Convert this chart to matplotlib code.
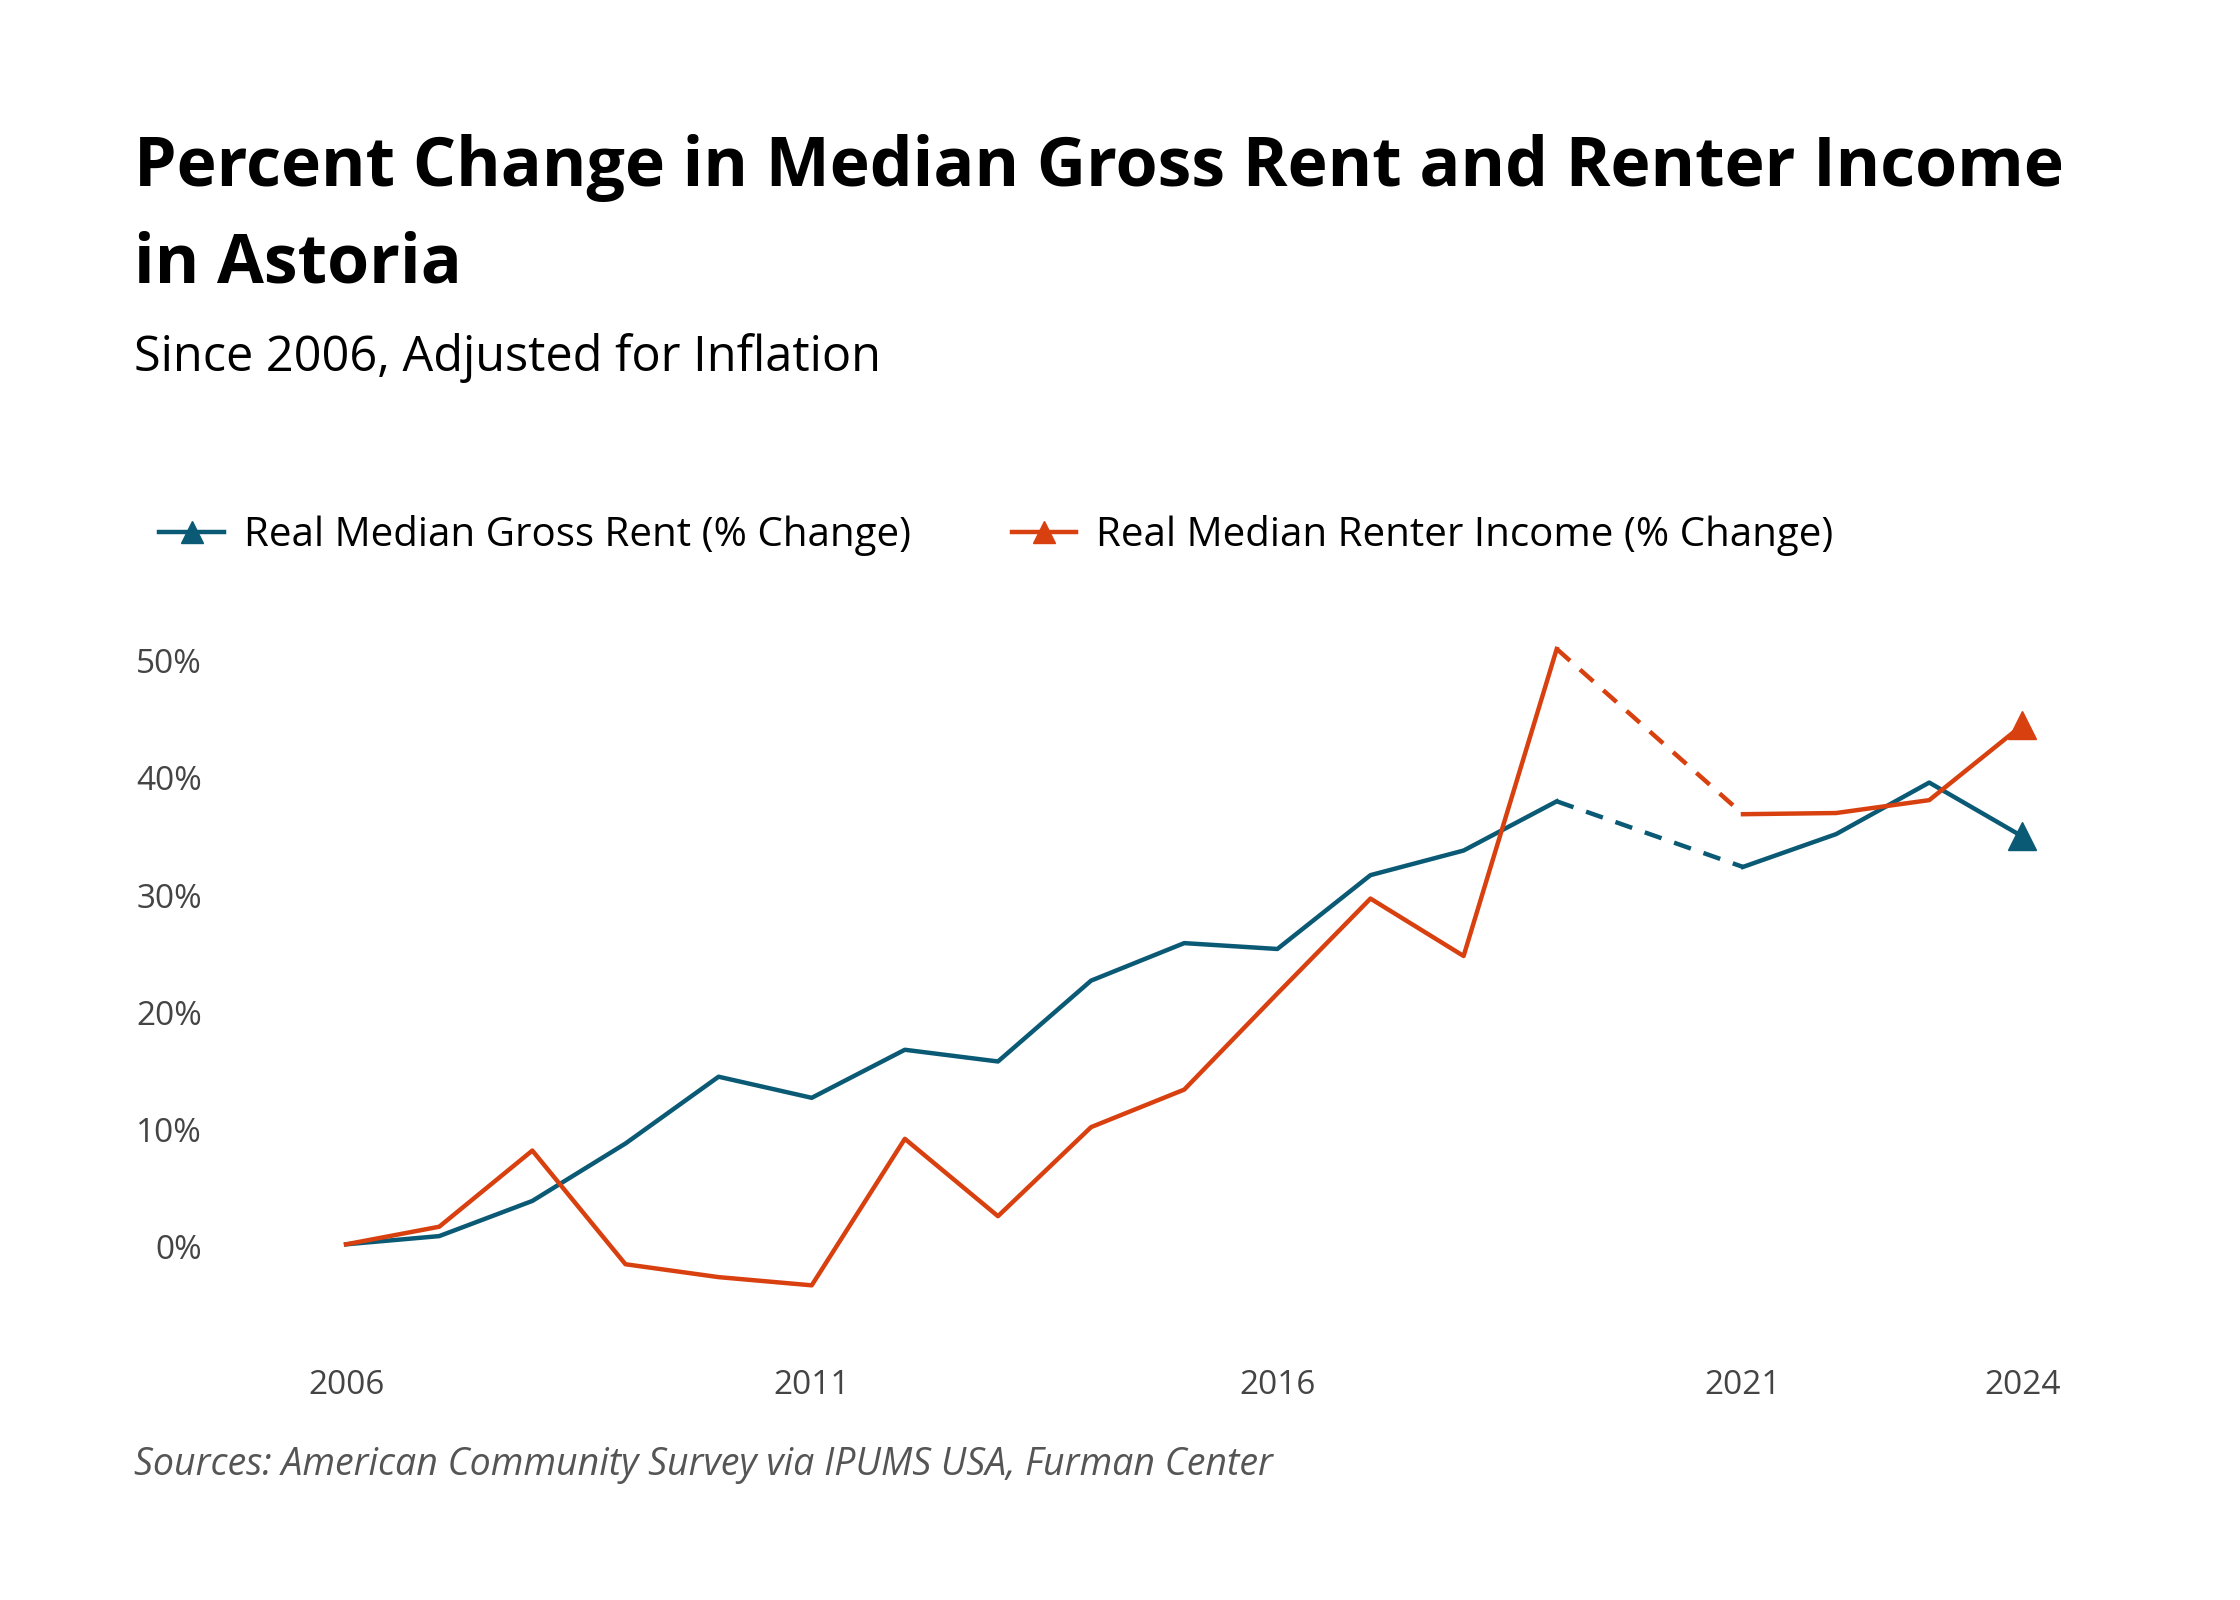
import matplotlib
matplotlib.use("Agg")
import matplotlib.pyplot as plt
from matplotlib.lines import Line2D

years = [2006, 2007, 2008, 2009, 2010, 2011, 2012, 2013, 2014, 2015, 2016, 2017, 2018, 2019, 2021, 2022, 2023, 2024]
rent = [0.2, 0.9, 3.9, 8.8, 14.5, 12.7, 16.8, 15.8, 22.7, 25.9, 25.4, 31.7, 33.8, 38.0, 32.4, 35.2, 39.6, 35.0]
income = [0.2, 1.7, 8.2, -1.5, -2.6, -3.3, 9.2, 2.6, 10.2, 13.4, 21.6, 29.7, 24.8, 51.0, 36.9, 37.0, 38.1, 44.5]
xticks = [2006, 2011, 2016, 2021, 2024]
yticks = [0, 10, 20, 30, 40, 50]

BLUE = "#0b5a75"
RED = "#d9400f"
FONT = "Open Sans"
H = 1114  # reference height in the units used to read positions

fig = plt.figure(figsize=(22.4, 16), dpi=100)
ax = fig.add_axes([0.115, 1 - 930 / H, 0.829, (930 - 440) / H])

gap = years.index(2021)
for vals, col in [(rent, BLUE), (income, RED)]:
    ax.plot(years[:gap], vals[:gap], color=col, lw=3.2)
    ax.plot(years[gap - 1:gap + 1], vals[gap - 1:gap + 1], color=col, lw=3.2, ls=(0, (4, 3)))
    ax.plot(years[gap:], vals[gap:], color=col, lw=3.2)
    ax.plot(years[-1], vals[-1], marker="^", color=col, ms=20)

ax.set_xlim(2005.05, 2024.99)
ax.set_ylim(-7.6, 52.45)
ax.set_xticks(xticks)
ax.set_xticklabels([str(x) for x in xticks], fontsize=24, color="#444444", family=FONT)
ax.set_yticks(yticks)
ax.set_yticklabels([f"{y}%" for y in yticks], fontsize=24, color="#444444", family=FONT)
ax.tick_params(length=0)
ax.tick_params(axis="y", pad=40)
ax.tick_params(axis="x", pad=24)
for s in ax.spines.values():
    s.set_visible(False)

fig.text(0.06, 1 - 117 / H, "Percent Change in Median Gross Rent and Renter Income",
         fontsize=49, fontweight="bold", family=FONT, va="center")
fig.text(0.06, 1 - 184 / H, "in Astoria", fontsize=49, fontweight="bold", family=FONT, va="center")
fig.text(0.06, 1 - 249 / H, "Since 2006, Adjusted for Inflation", fontsize=35, family=FONT, va="center")
fig.text(0.06, 1 - 1020 / H, "Sources: American Community Survey via IPUMS USA, Furman Center",
         fontsize=27, style="italic", color="#555555", family=FONT, va="center")

handles = [Line2D([], [], color=BLUE, lw=3.2, marker="^", ms=16),
           Line2D([], [], color=RED, lw=3.2, marker="^", ms=16)]
fig.legend(handles, ["Real Median Gross Rent (% Change)", "Real Median Renter Income (% Change)"],
           loc="center left", bbox_to_anchor=(0.055, 1 - 373 / H), ncol=2, frameon=False,
           prop={"family": FONT, "size": 29}, handlelength=1.6, handletextpad=0.5, columnspacing=2.5)

fig.savefig("out.png", dpi=100)
